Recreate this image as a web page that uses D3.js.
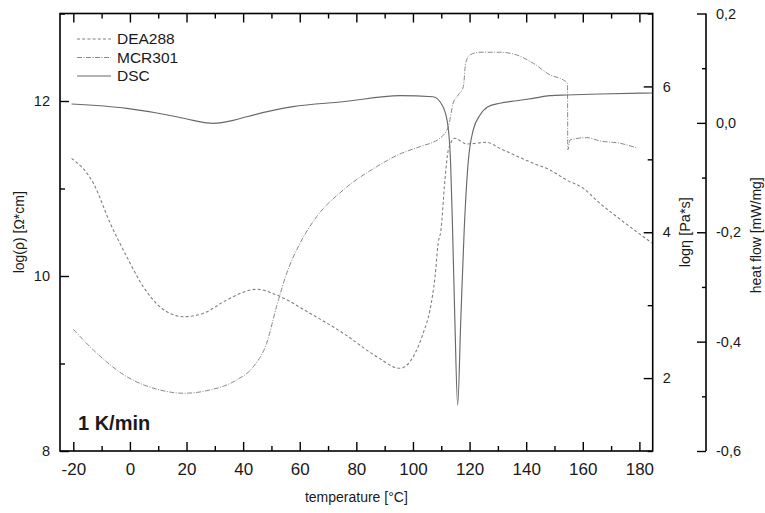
<!DOCTYPE html>
<html><head><meta charset="utf-8">
<script src="https://cdn.jsdelivr.net/npm/d3@7"></script>
<style>
body{margin:0;background:#fff;}
svg text{font-family:"Liberation Sans",Arial,sans-serif;fill:#1a1a1a;}
</style></head>
<body><svg id="c" width="765" height="513"></svg>
<script>
// ---- data ----
const dsc_T = [-20.6,-1.1,16.5,22.3,29.45,36.5,41.25,57.6,75.3,95.4,107.1,110.6,112.4,113.3,114.0,114.8,115.8,116.9,118.1,119.5,121.3,123.7,126.5,130.7,136.6,142.4,148.4,154.3,166.1,184.6];
const dsc_H = [0.0345,0.0266,0.0113,0.0045,-0.0008,0.0045,0.0113,0.0296,0.0387,0.0497,0.0478,0.0296,-0.007,-0.0734,-0.196,-0.36,-0.516,-0.36,-0.196,-0.073,-0.013,0.0144,0.0296,0.0358,0.0405,0.0449,0.0497,0.051,0.0528,0.0546];

const dea_T = [-20.6,-12.9,-7.0,-1.1,4.7,10.6,18.9,26.0,34.2,44.8,51.8,63.6,75.4,87.2,95.4,100.1,103.6,106.0,107.8,108.9,109.9,111.3,112.5,114.8,119.0,126.0,130.7,136.6,142.5,148.4,154.3,160.2,166.0,172.0,184.4];
const dea_R = [11.345,11.06,10.606,10.22,9.878,9.649,9.535,9.574,9.726,9.848,9.783,9.574,9.345,9.078,8.945,9.078,9.345,9.611,9.992,10.374,10.526,11.097,11.44,11.574,11.509,11.528,11.459,11.371,11.288,11.211,11.097,11.002,10.831,10.678,10.377];

const mcr_T = [-20.0,-12.9,-1.1,10.6,18.9,28.3,37.7,43.6,48.3,51.8,55.4,60.1,66.0,75.4,87.2,95.4,102.4,109.5,112.5,114.2,116.0,117.8,118.6,120.1,123.7,130.7,136.6,142.5,148.4,153.1,154.6,154.7,155.5,161.4,166.1,173.1,179.1];
const mcr_E = [2.669,2.385,2.019,1.837,1.792,1.837,1.974,2.156,2.477,2.979,3.438,3.849,4.214,4.58,4.9,5.074,5.174,5.289,5.449,5.77,5.883,5.997,6.318,6.432,6.469,6.469,6.432,6.318,6.158,6.089,6.044,5.129,5.266,5.298,5.252,5.221,5.156];

const seriesNames = ["DEA288","MCR301","DSC"];
const xMajor = [-20,0,20,40,60,80,100,120,140,160,180];
const xMinor = [-10,10,30,50,70,90,110,130,150,170];
const rhoMajor = [8,10,12], rhoMinor = [9,11,13];
const etaMajor = [2,4,6], etaMinor = [1,3,5,7];
const hfMajor = [0.2,0.0,-0.2,-0.4,-0.6], hfMinor = [0.1,-0.1,-0.3,-0.5];

// ---- layout ----
const L=60, R=652.7, T=13.5, B=451, HFX=706;
const svg = d3.select("#c");
const x = d3.scaleLinear().domain([-24.7,184.7]).range([L,R]);
const yR = d3.scaleLinear().domain([8,13]).range([B,T]);
const yE = d3.scaleLinear().domain([1,7]).range([B,T]);
const yH = d3.scaleLinear().domain([-0.6,0.2]).range([B,T]);

const fmtInt = d => String(d);
const fmtHF = d => d.toFixed(1).replace(".",",").replace("-0,0","0,0");
function styleAxis(g){ g.selectAll("path.domain").remove(); g.selectAll("line").attr("stroke","#000").attr("stroke-width",1.4); }

// bottom
svg.append("g").attr("transform",`translate(0,${B})`)
  .call(d3.axisBottom(x).tickValues(xMajor).tickSizeInner(-9).tickSizeOuter(0).tickPadding(12).tickFormat(fmtInt))
  .call(styleAxis).call(g=>g.selectAll("text").attr("font-size",17));
svg.append("g").attr("transform",`translate(0,${B})`)
  .call(d3.axisBottom(x).tickValues(xMinor).tickSizeInner(-5).tickSizeOuter(0).tickFormat(""))
  .call(styleAxis);
// top
svg.append("g").attr("transform",`translate(0,${T})`)
  .call(d3.axisTop(x).tickValues(xMajor).tickSizeInner(-9).tickSizeOuter(0).tickFormat(""))
  .call(styleAxis);
svg.append("g").attr("transform",`translate(0,${T})`)
  .call(d3.axisTop(x).tickValues(xMinor).tickSizeInner(-5).tickSizeOuter(0).tickFormat(""))
  .call(styleAxis);
// left
svg.append("g").attr("transform",`translate(${L},0)`)
  .call(d3.axisLeft(yR).tickValues(rhoMajor).tickSizeInner(-9).tickSizeOuter(0).tickPadding(10).tickFormat(fmtInt))
  .call(styleAxis).call(g=>g.selectAll("text").attr("font-size",14.5));
svg.append("g").attr("transform",`translate(${L},0)`)
  .call(d3.axisLeft(yR).tickValues(rhoMinor).tickSizeInner(-5).tickSizeOuter(0).tickFormat(""))
  .call(styleAxis);
// right (log eta)
svg.append("g").attr("transform",`translate(${R},0)`)
  .call(d3.axisRight(yE).tickValues(etaMajor).tickSizeInner(-9).tickSizeOuter(0).tickPadding(10).tickFormat(fmtInt))
  .call(styleAxis).call(g=>g.selectAll("text").attr("font-size",14.5));
svg.append("g").attr("transform",`translate(${R},0)`)
  .call(d3.axisRight(yE).tickValues(etaMinor).tickSizeInner(-5).tickSizeOuter(0).tickFormat(""))
  .call(styleAxis);
// heat flow axis
svg.append("g").attr("transform",`translate(${HFX},0)`)
  .call(d3.axisRight(yH).tickValues(hfMajor).tickSizeInner(-9).tickSizeOuter(0).tickPadding(10).tickFormat(fmtHF))
  .call(styleAxis).call(g=>g.selectAll("text").attr("font-size",14.5));
svg.append("g").attr("transform",`translate(${HFX},0)`)
  .call(d3.axisRight(yH).tickValues(hfMinor).tickSizeInner(-4).tickSizeOuter(0).tickFormat(""))
  .call(styleAxis);
svg.append("line").attr("x1",HFX).attr("x2",HFX).attr("y1",yH(0.2)).attr("y2",yH(-0.6)).attr("stroke","#000").attr("stroke-width",1.6);

// frame
svg.append("rect").attr("x",L).attr("y",T).attr("width",R-L).attr("height",B-T)
  .attr("fill","none").attr("stroke","#000").attr("stroke-width",1.6);

// curves
svg.append("clipPath").attr("id","cl").append("rect").attr("x",L).attr("y",T).attr("width",R-L).attr("height",B-T);
const gp = svg.append("g").attr("clip-path","url(#cl)");
const lineDEA = d3.line().x(i=>x(dea_T[i])).y(i=>yR(dea_R[i])).curve(d3.curveMonotoneX);
const lineMCR = d3.line().x(i=>x(mcr_T[i])).y(i=>yE(mcr_E[i])).curve(d3.curveMonotoneX);
const lineDSC = d3.line().x(i=>x(dsc_T[i])).y(i=>yH(dsc_H[i])).curve(d3.curveMonotoneX);
const styles = {
  DEA288:{stroke:"#808080",w:1.1,dash:"3,2.2"},
  MCR301:{stroke:"#8a8a8a",w:1.0,dash:"5,1.5,1,1.5"},
  DSC:{stroke:"#686868",w:1.15,dash:null}
};
gp.append("path").attr("d",lineDEA(d3.range(dea_T.length))).attr("fill","none")
  .attr("stroke",styles.DEA288.stroke).attr("stroke-width",styles.DEA288.w).attr("stroke-dasharray",styles.DEA288.dash);
gp.append("path").attr("d",lineMCR(d3.range(mcr_T.length))).attr("fill","none")
  .attr("stroke",styles.MCR301.stroke).attr("stroke-width",styles.MCR301.w).attr("stroke-dasharray",styles.MCR301.dash);
gp.append("path").attr("d",lineDSC(d3.range(dsc_T.length))).attr("fill","none")
  .attr("stroke",styles.DSC.stroke).attr("stroke-width",styles.DSC.w);

// legend
seriesNames.forEach((n,i)=>{
  const yy = 39 + i*18.5;
  const s = styles[n];
  svg.append("line").attr("x1",77).attr("x2",111).attr("y1",yy).attr("y2",yy)
    .attr("stroke",s.stroke).attr("stroke-width",s.w).attr("stroke-dasharray",s.dash);
  svg.append("text").attr("x",117).attr("y",yy).attr("dy","0.35em").attr("font-size",15.5).text(n);
});

// annotation
svg.append("text").attr("x",78).attr("y",430).attr("font-size",20).attr("font-weight","bold").text("1 K/min");

// axis titles
svg.append("text").attr("x",(L+R)/2).attr("y",502).attr("text-anchor","middle").attr("font-size",14).text("temperature [°C]");
svg.append("text").attr("transform",`translate(19,${(T+B)/2}) rotate(-90)`).attr("text-anchor","middle").attr("dy","0.35em").attr("font-size",14).text("log(ρ) [Ω*cm]");
svg.append("text").attr("transform",`translate(685,${(T+B)/2}) rotate(-90)`).attr("text-anchor","middle").attr("dy","0.35em").attr("font-size",14.5).text("logη [Pa*s]");
svg.append("text").attr("transform",`translate(756,${(T+B)/2+3}) rotate(-90)`).attr("text-anchor","middle").attr("dy","0.35em").attr("font-size",14).text("heat flow [mW/mg]");
</script></body></html>
